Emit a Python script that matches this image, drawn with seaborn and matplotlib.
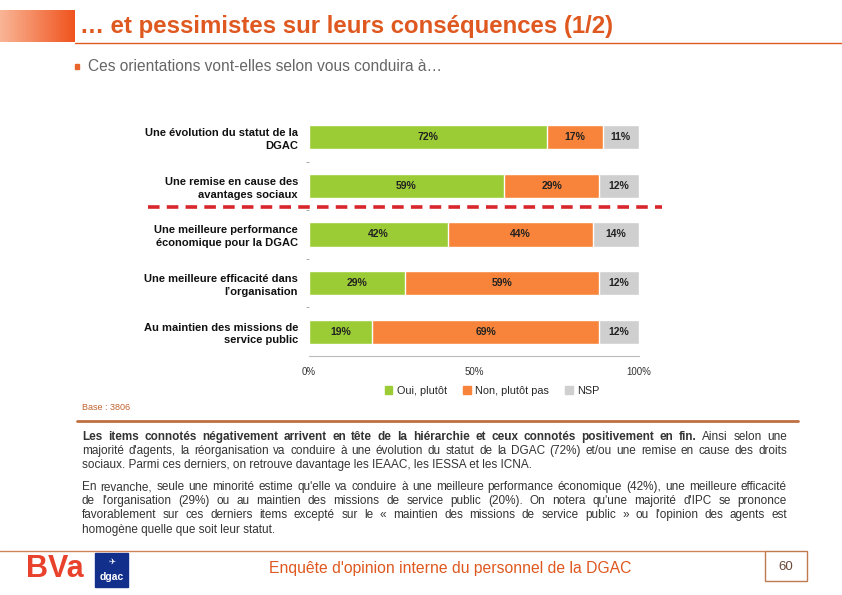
import matplotlib
matplotlib.use("Agg")
import matplotlib.pyplot as plt
import numpy as np
import pandas as pd
import seaborn as sns
from matplotlib.lines import Line2D
from matplotlib.patches import Patch, Rectangle

# data
categories = [
    "Une évolution du statut de la\nDGAC",
    "Une remise en cause des\navantages sociaux",
    "Une meilleure performance\néconomique pour la DGAC",
    "Une meilleure efficacité dans\nl’organisation",
    "Au maintien des missions de\nservice public",
]
oui = [72, 59, 42, 29, 19]
non = [17, 29, 44, 59, 69]
nsp = [11, 12, 14, 12, 12]
series_names = ["Oui, plutôt", "Non, plutôt pas", "NSP"]
x_ticks = [0, 50, 100]
x_tick_labels = ["0%", "50%", "100%"]

GREEN = "#9BCB35"
ORANGE = "#F7843A"
GREY = "#CFCFCF"
TITLE_ORANGE = "#DF581F"
W, H = 842, 595

sns.set_style("white")
plt.rcParams["font.family"] = ["Liberation Sans", "DejaVu Sans"]

df = pd.DataFrame({"cat": categories, "oui": oui, "non": non, "nsp": nsp})
df["c1"] = df["oui"]
df["c2"] = df["oui"] + df["non"]
df["c3"] = df["c2"] + df["nsp"]

fig = plt.figure(figsize=(W / 100, H / 100), dpi=100)


def fx(px):
    return px / W


def fy(py):
    return 1 - py / H


# ---- stacked bar chart ----
ax = fig.add_axes([fx(309), fy(356), fx(639) - fx(309), fy(113) - fy(356)])
sns.barplot(data=df, x="c3", y="cat", color=GREY, orient="h", width=0.5, ax=ax, saturation=1)
sns.barplot(data=df, x="c2", y="cat", color=ORANGE, orient="h", width=0.5, ax=ax, saturation=1)
sns.barplot(data=df, x="c1", y="cat", color=GREEN, orient="h", width=0.5, ax=ax, saturation=1)

for i in range(len(categories)):
    starts = [0, oui[i], oui[i] + non[i]]
    for s, v in zip(starts, [oui[i], non[i], nsp[i]]):
        ax.text(s + v / 2, i, f"{v}%", ha="center", va="center",
                fontsize=7.5, fontweight="bold", color="#222222")

ax.set_xlim(0, 100)
ax.set_ylim(len(categories) - 0.5, -0.5)
ax.set_xlabel("")
ax.set_ylabel("")
ax.set_xticks(x_ticks)
ax.set_xticklabels(x_tick_labels, fontsize=7, color="#333333")
ax.tick_params(axis="x", length=3, color="#BBBBBB", pad=5)
ax.tick_params(axis="y", length=0, pad=8, labelsize=8)
for lab in ax.get_yticklabels():
    lab.set_fontweight("bold")
    lab.set_color("#111111")
    lab.set_linespacing(1.35)
ax.set_yticks(np.arange(len(categories) - 1) + 0.5, minor=True)
ax.tick_params(axis="y", which="minor", length=2, color="#999999", left=True)
for side in ["top", "right", "left"]:
    ax.spines[side].set_visible(False)
ax.spines["bottom"].set_color("#BBBBBB")
ax.spines["bottom"].set_linewidth(0.8)

handles = [Patch(color=c) for c in (GREEN, ORANGE, GREY)]
fig.legend(handles, series_names, loc="center", ncol=3, frameon=False,
           bbox_to_anchor=(fx(492), fy(391)), fontsize=7.8,
           handlelength=0.7, handleheight=0.7, handletextpad=0.4, columnspacing=1.5)

# red dashed separator between negative and positive items
fig.add_artist(Line2D([fx(148), fx(662)], [fy(207), fy(207)], color="#D8262C",
                      lw=2.6, dashes=(3.2, 2.0)))

# ---- title band ----
gax = fig.add_axes([0, fy(42), fx(75), fy(10) - fy(42)])
grad = np.linspace(0, 1, 100).reshape(1, -1)
cmap = matplotlib.colors.LinearSegmentedColormap.from_list("g", ["#F9B596", "#F0541E"])
gax.imshow(grad, aspect="auto", cmap=cmap)
gax.axis("off")
fig.text(fx(80), fy(27), "… et pessimistes sur leurs conséquences (1/2)", fontsize=17.3,
         fontweight="bold", color=TITLE_ORANGE, va="center")
fig.add_artist(Line2D([fx(75), 1], [fy(42.5), fy(42.5)], color=TITLE_ORANGE, lw=1))

fig.add_artist(Rectangle((fx(75), fy(69)), fx(4), fy(64) - fy(69), color="#E8662C"))
fig.text(fx(88), fy(66.5), "Ces orientations vont-elles selon vous conduira à…",
         fontsize=11.2, color="#666666", va="center")

fig.text(fx(82), fy(407), "Base : 3806", fontsize=6.5, color="#C0632E", va="center")
fig.add_artist(Line2D([fx(77), fx(798)], [fy(421), fy(421)], color="#C07040", lw=2))

# ---- commentary (justified lines) ----
B, N = "bold", "normal"
FS = 8.5
para_lines = [
    ([("Les items connotés négativement arrivent en tête de la hiérarchie et ceux connotés positivement en fin.", B),
      ("Ainsi selon une", N)], 440, True),
    ([("majorité d'agents, la réorganisation va conduire à une évolution du statut de la DGAC (72%) et/ou une remise en cause des droits", N)], 454, True),
    ([("sociaux. Parmi ces derniers, on retrouve davantage les IEAAC, les IESSA et les ICNA.", N)], 468, False),
    ([("En revanche, seule une minorité estime qu'elle va conduire à une meilleure performance économique (42%), une meilleure efficacité", N)], 490, True),
    ([("de l'organisation (29%) ou au maintien des missions de service public (20%). On notera qu'une majorité d'IPC se prononce", N)], 504, True),
    ([("favorablement sur ces derniers items excepté sur le « maintien des missions de service public » ou l'opinion des agents est", N)], 518, True),
    ([("homogène quelle que soit leur statut.", N)], 533, False),
]

renderer = fig.canvas.get_renderer()
X0, X1 = 82, 787

for chunks, ypx, justify in para_lines:
    if not justify:
        fig.text(fx(X0), fy(ypx), chunks[0][0], fontsize=FS, color="#333333", va="baseline")
        continue
    words = []
    for txt, wt in chunks:
        for w in txt.split():
            words.append((w, wt))
    texts = [fig.text(0, fy(ypx), w, fontsize=FS, fontweight=wt, color="#333333",
                      va="baseline") for w, wt in words]
    widths = [t.get_window_extent(renderer).width for t in texts]
    gap = (X1 - X0 - sum(widths)) / (len(texts) - 1)
    x = X0
    for t, w in zip(texts, widths):
        t.set_x(fx(x))
        x += w + gap

# ---- footer ----
fig.add_artist(Line2D([0, fx(765)], [fy(551), fy(551)], color="#D0825A", lw=1))
fig.add_artist(Rectangle((fx(765), fy(581)), fx(807) - fx(765), fy(551) - fy(581),
                         fill=False, edgecolor="#C07A50", lw=1))
fig.text(fx(786), fy(567), "60", fontsize=9.5, color="#6B4A3A", ha="center", va="center")
fig.text(fx(450), fy(568), "Enquête d'opinion interne du personnel de la DGAC", fontsize=11.3,
         color=TITLE_ORANGE, ha="center", va="center")
fig.text(fx(26), fy(569), "BVa", fontsize=22, fontweight="bold", color="#E9422C", va="center")
fig.add_artist(Rectangle((fx(95), fy(587)), fx(128) - fx(95), fy(553) - fy(587), color="#122F8C"))
fig.text(fx(111.5), fy(577), "dgac", fontsize=7.5, fontweight="bold", color="white",
         ha="center", va="center")
fig.text(fx(112), fy(561), "✈", fontsize=6, color="white", ha="center", va="center",
         family=["DejaVu Sans"])

fig.savefig("out.png", dpi=100)
